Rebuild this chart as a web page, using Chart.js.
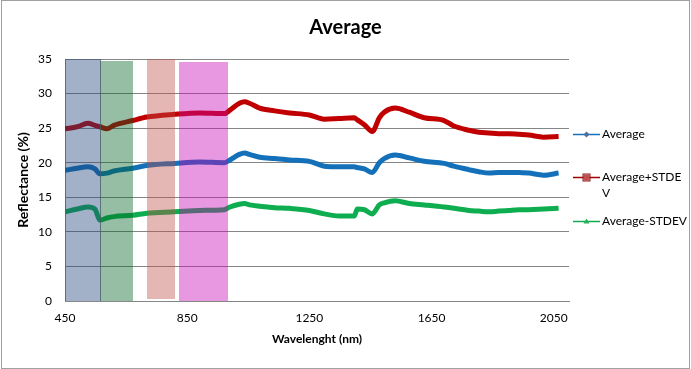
<!DOCTYPE html>
<html>
<head>
<meta charset="utf-8">
<title>Average</title>
<script src="https://cdn.jsdelivr.net/npm/chart.js@4/dist/chart.umd.min.js"></script>
<style>
  html, body { margin: 0; padding: 0; background: #fff; }
  canvas { display: block; }
</style>
</head>
<body>
<canvas id="myChart" width="691" height="369"></canvas>
<script>
'use strict';

// Data
var wavelengths = [450, 490, 525, 548, 564, 587, 610, 672, 718, 809, 891, 972, 990, 1021, 1038, 1054, 1087, 1136, 1185, 1250, 1299, 1348, 1397, 1407, 1430, 1456, 1479, 1495, 1531, 1577, 1626, 1691, 1723, 1772, 1805, 1838, 1870, 1903, 1936, 1968, 2017, 2066];
var average = [18.9, 19.2, 19.4, 19.1, 18.4, 18.5, 18.8, 19.2, 19.6, 19.9, 20.1, 20.0, 20.4, 21.2, 21.4, 21.2, 20.8, 20.6, 20.4, 20.2, 19.5, 19.4, 19.4, 19.3, 19.1, 18.6, 20.0, 20.6, 21.1, 20.7, 20.2, 19.9, 19.5, 19.0, 18.7, 18.5, 18.6, 18.6, 18.6, 18.5, 18.2, 18.5];
var averagePlus = [24.9, 25.2, 25.7, 25.4, 25.2, 24.9, 25.4, 26.1, 26.6, 27.0, 27.2, 27.1, 27.6, 28.6, 28.8, 28.6, 27.9, 27.5, 27.2, 26.9, 26.3, 26.4, 26.5, 26.2, 25.5, 24.5, 26.5, 27.3, 27.9, 27.3, 26.5, 26.1, 25.3, 24.7, 24.4, 24.3, 24.2, 24.2, 24.1, 24.0, 23.7, 23.8];
var averageMinus = [12.9, 13.3, 13.6, 13.3, 11.7, 12.0, 12.2, 12.4, 12.7, 12.9, 13.1, 13.2, 13.6, 14.0, 14.1, 13.9, 13.7, 13.5, 13.4, 13.1, 12.6, 12.3, 12.3, 13.3, 13.2, 12.6, 13.9, 14.2, 14.5, 14.1, 13.9, 13.6, 13.4, 13.1, 13.0, 12.9, 13.0, 13.1, 13.2, 13.2, 13.3, 13.4];

var xTicks = [450, 850, 1250, 1650, 2050];
var yTicks = [0, 5, 10, 15, 20, 25, 30, 35];

// Shaded wavelength bands (nm / %)
var bandStart = [450, 565, 718, 822];
var bandEnd = [564, 672, 809, 985];
var bandTop = [35, 34.7, 35, 34.6];
var bandBottom = [0, 0, 0.3, 0];

var chartTitle = 'Average';
var seriesNames = ['Average', 'Average+STDEV', 'Average-STDEV'];
var legendLines = [['Average'], ['Average+STDE', 'V'], ['Average-STDEV']];

// Styles
var FONT = 'Lato, "Open Sans", sans-serif';
var seriesColors = ['#1470B8', '#C00000', '#0EAD4F'];
var bandColors = ['rgba(30,66,122,0.41)', 'rgba(0,98,37,0.41)', 'rgba(190,78,73,0.41)', 'rgba(199,6,180,0.41)'];

function toPoints(values) {
  return wavelengths.map(function(w, i) {
    return { x: w, y: values[i] };
  });
}

var backgroundPlugin = {
  id: 'background',
  beforeDraw: function(chart) {
    var ctx = chart.ctx;
    ctx.save();
    ctx.fillStyle = '#fff';
    ctx.fillRect(0, 0, chart.width, chart.height);
    ctx.strokeStyle = '#a0a0a0';
    ctx.lineWidth = 1;
    ctx.strokeRect(1.5, 0.5, chart.width - 3, chart.height - 1);
    ctx.restore();
  }
};

// Bands sit on top of the lines, like the overlaid shapes in the original
var bandsPlugin = {
  id: 'bands',
  afterDatasetsDraw: function(chart) {
    var ctx = chart.ctx;
    var x = chart.scales.x;
    var y = chart.scales.y;
    ctx.save();
    for (var i = 0; i < bandStart.length; i++) {
      var left = Math.round(x.getPixelForValue(bandStart[i]));
      var right = Math.round(x.getPixelForValue(bandEnd[i]));
      var top = Math.round(y.getPixelForValue(bandTop[i]));
      var bottom = Math.round(y.getPixelForValue(bandBottom[i]));
      ctx.fillStyle = bandColors[i];
      ctx.fillRect(left, top, right - left, bottom - top);
    }
    // outline on the first band
    var edge = Math.round(x.getPixelForValue(bandEnd[0])) + 0.5;
    ctx.strokeStyle = 'rgba(70,90,110,0.75)';
    ctx.lineWidth = 1;
    ctx.beginPath();
    ctx.moveTo(edge, y.getPixelForValue(bandTop[0]));
    ctx.lineTo(edge, y.getPixelForValue(0));
    ctx.stroke();
    ctx.restore();
  }
};

function drawMarker(ctx, kind, cx, cy, color) {
  ctx.fillStyle = color;
  ctx.beginPath();
  if (kind === 'diamond') {
    ctx.moveTo(cx, cy - 3);
    ctx.lineTo(cx + 3, cy);
    ctx.lineTo(cx, cy + 3);
    ctx.lineTo(cx - 3, cy);
  } else if (kind === 'square') {
    ctx.rect(cx - 3, cy - 3, 6, 6);
  } else {
    ctx.moveTo(cx, cy - 3);
    ctx.lineTo(cx + 3, cy + 2);
    ctx.lineTo(cx - 3, cy + 2);
  }
  ctx.closePath();
  ctx.fill();
  if (kind === 'square') {
    ctx.strokeStyle = '#8B1A1A';
    ctx.lineWidth = 1;
    ctx.strokeRect(cx - 3.5, cy - 3.5, 7, 7);
  }
}

// Title centred on the whole canvas, legend drawn by hand so the wrapped label matches
var labelsPlugin = {
  id: 'sideLabels',
  afterDraw: function(chart) {
    var ctx = chart.ctx;
    ctx.save();
    ctx.fillStyle = '#000';
    ctx.font = 'bold 20px ' + FONT;
    ctx.textAlign = 'center';
    ctx.textBaseline = 'middle';
    ctx.fillText(chartTitle, chart.width / 2, 28);

    var rows = [134, 177, 221];
    var markers = ['diamond', 'square', 'triangle'];
    var lineColors = ['#1470B8', '#A00000', '#0EAD4F'];
    var markerColors = ['#4F6FA0', '#C0504D', '#2EAD5F'];
    ctx.font = '12px ' + FONT;
    ctx.textAlign = 'left';
    for (var i = 0; i < legendLines.length; i++) {
      var cy = rows[i];
      ctx.strokeStyle = lineColors[i];
      ctx.lineWidth = 1.5;
      ctx.beginPath();
      ctx.moveTo(573, cy + 0.5);
      ctx.lineTo(600, cy + 0.5);
      ctx.stroke();
      drawMarker(ctx, markers[i], 586.5, cy + 0.5, markerColors[i]);
      ctx.fillStyle = '#000';
      for (var k = 0; k < legendLines[i].length; k++) {
        ctx.fillText(legendLines[i][k], 602, cy + k * 16);
      }
    }
    ctx.restore();
  }
};

var ctx = document.getElementById('myChart').getContext('2d');

var chart = new Chart(ctx, {
  type: 'line',
  data: {
    datasets: [
      {
        label: seriesNames[0],
        data: toPoints(average),
        borderColor: seriesColors[0],
        order: 3
      },
      {
        label: seriesNames[1],
        data: toPoints(averagePlus),
        borderColor: seriesColors[1],
        order: 2
      },
      {
        label: seriesNames[2],
        data: toPoints(averageMinus),
        borderColor: seriesColors[2],
        order: 1
      }
    ]
  },
  options: {
    responsive: false,
    animation: false,
    devicePixelRatio: 1,
    layout: {
      padding: { left: 0, right: 122, top: 59, bottom: 0 }
    },
    elements: {
      line: { borderWidth: 5, cubicInterpolationMode: 'monotone', fill: false },
      point: { radius: 0, hoverRadius: 0 }
    },
    plugins: {
      legend: { display: false },
      tooltip: { enabled: false },
      title: { display: false }
    },
    scales: {
      x: {
        type: 'linear',
        min: 450,
        max: 2100,
        afterBuildTicks: function(scale) {
          scale.ticks = xTicks.map(function(v) { return { value: v }; });
        },
        afterFit: function(scale) {
          scale.height = 68;
        },
        grid: { display: false, drawTicks: false },
        border: { display: true, color: '#868686', width: 1 },
        ticks: {
          color: '#000',
          padding: 10,
          maxRotation: 0,
          autoSkip: false,
          font: { family: FONT, size: 12 },
          callback: function(value) { return String(value); }
        },
        title: {
          display: true,
          text: 'Wavelenght (nm)',
          color: '#000',
          font: { family: FONT, size: 12, weight: 'bold' },
          padding: { top: 0, bottom: 23 }
        }
      },
      y: {
        min: 0,
        max: 35,
        afterBuildTicks: function(scale) {
          scale.ticks = yTicks.map(function(v) { return { value: v }; });
        },
        afterFit: function(scale) {
          scale.width = 65;
        },
        grid: { color: '#868686', lineWidth: 1, drawTicks: false },
        border: { display: true, color: '#868686', width: 1 },
        ticks: {
          color: '#000',
          padding: 13,
          font: { family: FONT, size: 12 },
          callback: function(value) { return String(value); }
        },
        title: {
          display: true,
          text: 'Reflectance (%)',
          color: '#000',
          font: { family: FONT, size: 14, weight: 'bold' },
          padding: { top: 15, bottom: 0 }
        }
      }
    }
  },
  plugins: [backgroundPlugin, bandsPlugin, labelsPlugin]
});
</script>
</body>
</html>
